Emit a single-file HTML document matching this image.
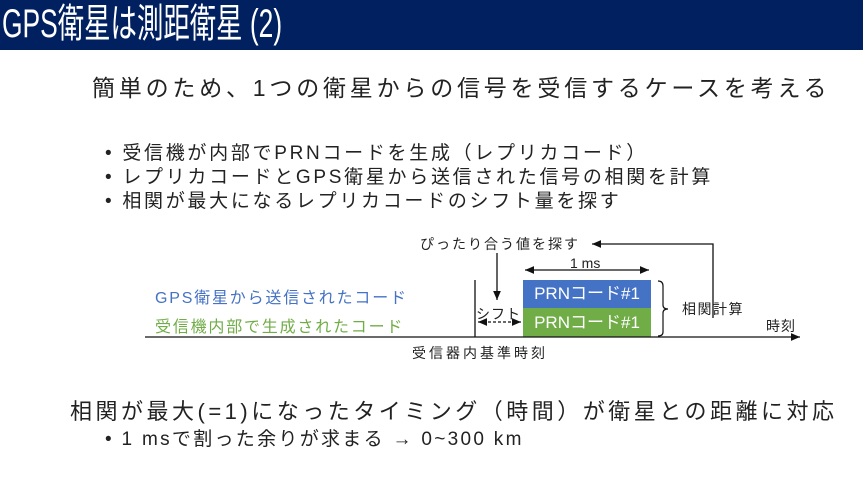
<!DOCTYPE html>
<html><head><meta charset="utf-8"><style>
body{margin:0;width:863px;height:477px;background:#fff;position:relative;overflow:hidden;font-family:"Liberation Sans","Noto Sans CJK JP",sans-serif;color:#222}
.a{position:absolute;white-space:nowrap}
</style></head><body>
<div class="a" style="left:0;top:0;width:863px;height:50px;background:#002060"></div>
<div class="a" style="left:2px;top:2px;font-size:40px;color:#fff;line-height:44px;transform:scaleX(0.66);transform-origin:0 0">GPS衛星は測距衛星 (2)</div>
<div class="a" style="left:92px;top:74px;font-size:23px;letter-spacing:3.8px;line-height:28px">簡単のため、1つの衛星からの信号を受信するケースを考える</div>
<div class="a" style="left:105px;top:142px;font-size:19px;letter-spacing:2.7px;line-height:24px">• 受信機が内部でPRNコードを生成（レプリカコード）<br>• レプリカコードとGPS衛星から送信された信号の相関を計算<br>• 相関が最大になるレプリカコードのシフト量を探す</div>
<div class="a" style="left:70px;top:398px;font-size:22px;letter-spacing:3.5px;line-height:28px">相関が最大(=1)になったタイミング（時間）が衛星との距離に対応</div>
<div class="a" style="left:105px;top:428px;font-size:19px;letter-spacing:2.3px;line-height:24px">• 1 msで割った余りが求まる → 0~300 km</div>

<div class="a" style="left:523px;top:280px;width:128px;height:28px;background:#4472c4;color:#fff;font-size:17px;line-height:28px;text-align:center">PRNコード#1</div>
<div class="a" style="left:523px;top:308px;width:128px;height:29px;background:#70ad47;color:#fff;font-size:17px;line-height:29px;text-align:center">PRNコード#1</div>
<svg class="a" style="left:0;top:0" width="863" height="477">
<defs><marker id="m" markerWidth="8" markerHeight="8" refX="7" refY="4" orient="auto-start-reverse"><path d="M0,1 L7,4 L0,7z" fill="#111"/></marker></defs>
<line x1="145" y1="337" x2="800" y2="337" stroke="#111" stroke-width="1.3" marker-end="url(#m)"/>
<line x1="475" y1="280" x2="475" y2="337" stroke="#111" stroke-width="1.3"/>
<line x1="525" y1="270" x2="649" y2="270" stroke="#111" stroke-width="1.3" marker-start="url(#m)" marker-end="url(#m)"/>
<line x1="478" y1="322" x2="521" y2="322" stroke="#111" stroke-width="1.3" stroke-dasharray="3,2" marker-start="url(#m)" marker-end="url(#m)"/>
<line x1="497" y1="253" x2="497" y2="300" stroke="#111" stroke-width="1.3" marker-end="url(#m)"/>
<polyline points="713,318 713,244 592,244" fill="none" stroke="#111" stroke-width="1.3" marker-end="url(#m)"/>
<path d="M658,281 Q663,281 663,286 L663,305 Q663,309 668,309 Q663,309 663,313 L663,332 Q663,336 658,336" fill="none" stroke="#111" stroke-width="1.2"/>
</svg>
<div class="a" style="left:420px;top:234px;font-size:14px;letter-spacing:2px">ぴったり合う値を探す</div>
<div class="a" style="left:570px;top:255px;font-size:14px">1 ms</div>
<div class="a" style="left:155px;top:284px;font-size:16px;letter-spacing:1.8px;color:#4472c4">GPS衛星から送信されたコード</div>
<div class="a" style="left:155px;top:313px;font-size:16px;letter-spacing:1.8px;color:#70ad47">受信機内部で生成されたコード</div>
<div class="a" style="left:476px;top:304px;font-size:14px;letter-spacing:1px">シフト</div>
<div class="a" style="left:682px;top:299px;font-size:14px;letter-spacing:1.5px">相関計算</div>
<div class="a" style="left:766px;top:316px;font-size:14px;letter-spacing:1px">時刻</div>
<div class="a" style="left:412px;top:343px;font-size:14px;letter-spacing:3px">受信器内基準時刻</div>
</body></html>
